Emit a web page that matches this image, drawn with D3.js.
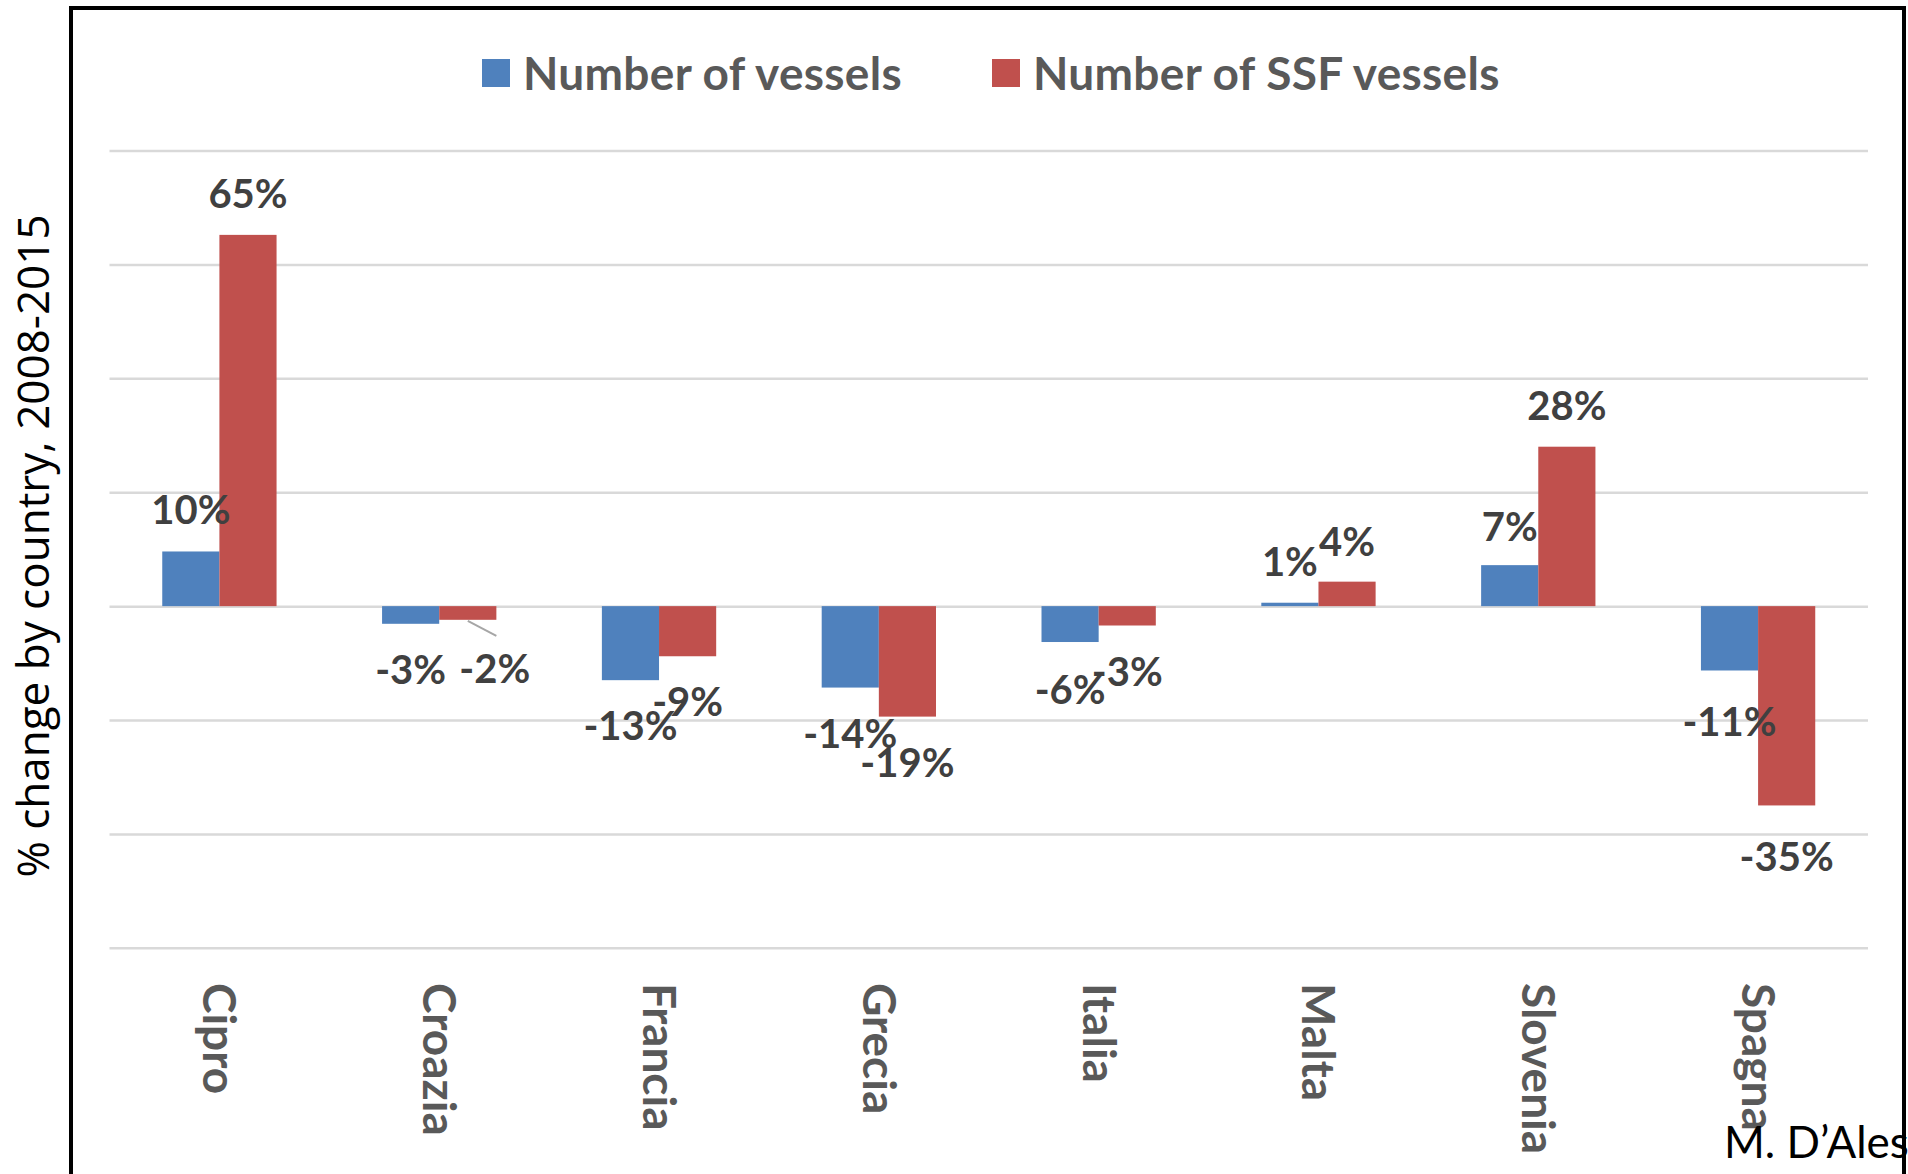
<!DOCTYPE html>
<html><head><meta charset="utf-8">
<script src="https://cdn.jsdelivr.net/npm/d3@7"></script>
<style>body{margin:0;background:#fff;} svg{display:block;}</style>
</head><body>
<svg id="chart" width="1908" height="1174"></svg>
<script>
// ---- data ----
const categories = ["Cipro","Croazia","Francia","Grecia","Italia","Malta","Slovenia","Spagna"];
const seriesNames = ["Number of vessels","Number of SSF vessels"];
const vesselsChange = [9.6,-3.1,-13.0,-14.3,-6.3,0.6,7.2,-11.3];
const ssfVesselsChange = [65.2,-2.4,-8.8,-19.4,-3.4,4.3,28.0,-35.0];
const yTicks = [-60,-40,-20,0,20,40,60,80];
const yTitle = "% change by country, 2008-2015";
const credit = "M. D’Ales";

// ---- layout (not data) ----
const W = 1908, H = 1174;
const plot = {left:109.5, right:1868, top:150.6, bottom:947.8};
const colors = ["#4f81bd","#c0504d"];
// per-label nudges [dx,dy] for manually placed labels
const labelNudge = [
  [[0,0],[0,0],[0,0],[0,0],[0,2],[0,0],[0,3],[0,6]],
  [[0,0],[27,3],[0,0],[0,0],[0,0],[0,1],[0,0],[0,6]]
];

const svg = d3.select("#chart");
svg.append("rect").attr("width",W).attr("height",H).attr("fill","#fff");

const y = d3.scaleLinear().domain([d3.min(yTicks), d3.max(yTicks)]).range([plot.bottom, plot.top]);
const x0 = d3.scaleBand().domain(categories).range([plot.left, plot.right]).paddingInner(0.48).paddingOuter(0.24);
const x1 = d3.scaleBand().domain(seriesNames).range([0, x0.bandwidth()]);

// gridlines via axis
const grid = svg.append("g").attr("transform",`translate(${plot.left},0)`)
  .call(d3.axisLeft(y).tickValues(yTicks).tickSize(-(plot.right-plot.left)).tickFormat(""));
grid.select(".domain").remove();
grid.selectAll(".tick line").attr("stroke","#d9d9d9").attr("stroke-width",2.5);

const series = [vesselsChange, ssfVesselsChange];
const rows = [];
series.forEach((vals,si)=>vals.forEach((v,ci)=>rows.push({si,ci,v,cat:categories[ci],name:seriesNames[si]})));

svg.append("g").selectAll("rect").data(rows).join("rect")
  .attr("x",d=>x0(d.cat)+x1(d.name))
  .attr("width",x1.bandwidth())
  .attr("y",d=>Math.min(y(d.v),y(0)))
  .attr("height",d=>Math.abs(y(d.v)-y(0)))
  .attr("fill",d=>colors[d.si]);

// leader line for Croazia SSF label
{
  const d = rows.find(r=>r.si===1 && r.cat==="Croazia");
  const left = x0(d.cat)+x1(d.name);
  svg.append("line")
    .attr("x1",left+x1.bandwidth()/2).attr("y1",y(d.v)+1)
    .attr("x2",left+x1.bandwidth()).attr("y2",y(d.v)+16)
    .attr("stroke","#a6a6a6").attr("stroke-width",2);
}

// data labels
svg.append("g").selectAll("text").data(rows).join("text")
  .attr("x",d=>x0(d.cat)+x1(d.name)+x1.bandwidth()/2+labelNudge[d.si][d.ci][0])
  .attr("y",d=>(d.v>=0? y(d.v)-27 : y(d.v)+60)+labelNudge[d.si][d.ci][1])
  .attr("text-anchor","middle")
  .attr("font-family","Lato, 'Open Sans', sans-serif").attr("font-weight","bold")
  .attr("font-size",40).attr("fill","#404040")
  .text(d=>Math.round(d.v)+"%");

// category labels (rotated)
svg.append("g").selectAll("text").data(categories).join("text")
  .attr("transform",d=>`translate(${x0(d)+x0.bandwidth()/2-16},983) rotate(90)`)
  .attr("font-family","Lato, 'Open Sans', sans-serif").attr("font-weight","bold")
  .attr("font-size",46).attr("fill","#595959")
  .text(d=>d);

// legend
const legendX = [482, 992];
const lg = svg.append("g").selectAll("g").data(seriesNames).join("g")
  .attr("transform",(d,i)=>`translate(${legendX[i]},59)`);
lg.append("rect").attr("width",28).attr("height",28).attr("fill",(d,i)=>colors[i]);
lg.append("text").attr("x",41).attr("y",31)
  .attr("font-family","Lato, 'Open Sans', sans-serif").attr("font-weight","bold")
  .attr("font-size",46).attr("letter-spacing",0.3).attr("fill","#595959").text(d=>d);

// y title
svg.append("text").attr("transform","translate(49,546) rotate(-90)")
  .attr("text-anchor","middle")
  .attr("font-family","'Open Sans', sans-serif").attr("font-size",44).attr("fill","#000")
  .text(yTitle);

// credit
svg.append("text").attr("x",1724).attr("y",1158)
  .attr("font-family","Lato, sans-serif").attr("font-size",44).attr("fill","#000")
  .text(credit);

// frame
svg.append("path").attr("d",`M71,${H} V8 H1904 V${H}`)
  .attr("fill","none").attr("stroke","#000").attr("stroke-width",4);
</script>
</body></html>
